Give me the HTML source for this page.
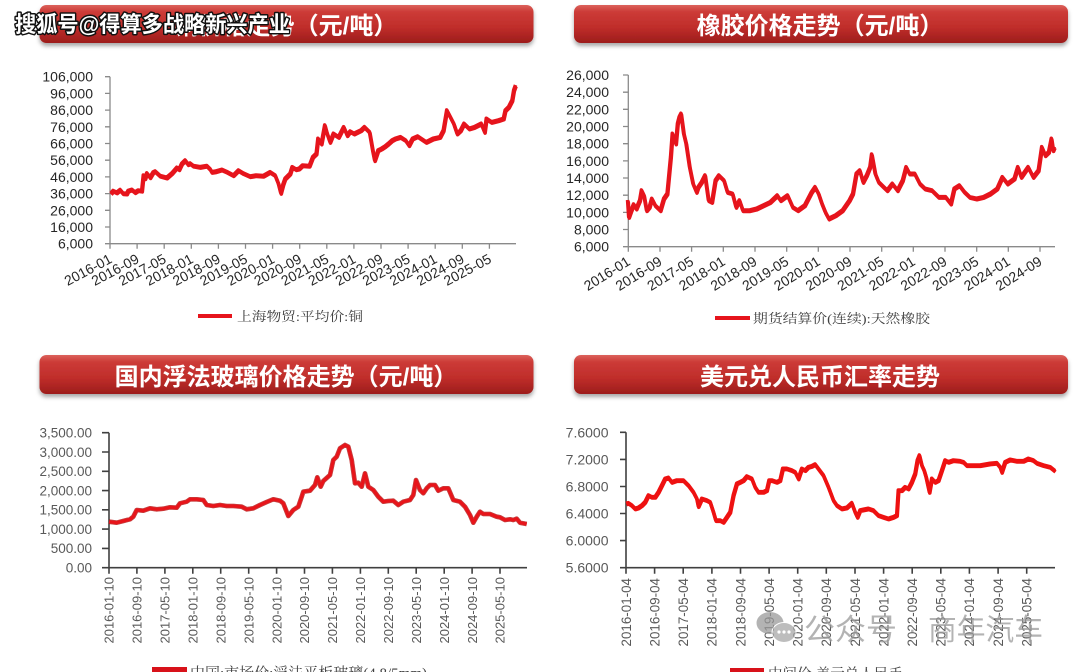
<!DOCTYPE html>
<html><head><meta charset="utf-8">
<style>
html,body{margin:0;padding:0;background:#fff;}
body{width:1080px;height:672px;overflow:hidden;}
svg{display:block;}
.tl{font-family:"Liberation Sans",Arial,sans-serif;fill:#262626;}
.tb{font-family:"Liberation Sans",Arial,sans-serif;fill:#595959;}
.ttl{font-family:"Liberation Sans","Noto Sans CJK SC",sans-serif;font-weight:bold;fill:#fff;font-size:24px;}
.lg{font-family:"Liberation Serif","Noto Serif CJK SC",serif;fill:#404040;}
</style></head>
<body>
<svg width="1080" height="672" viewBox="0 0 1080 672" xmlns="http://www.w3.org/2000/svg">
<defs>
<linearGradient id="bn" x1="0" y1="0" x2="0" y2="1">
<stop offset="0" stop-color="#dc625c"/>
<stop offset="0.18" stop-color="#cc3b37"/>
<stop offset="0.6" stop-color="#bf2d2a"/>
<stop offset="1" stop-color="#9c1d1b"/>
</linearGradient>
<filter id="sh" x="-5%" y="-30%" width="110%" height="180%">
<feDropShadow dx="0" dy="3" stdDeviation="2" flood-color="#000" flood-opacity="0.35"/>
</filter>
</defs>

<!-- Banners -->
<rect x="39.5" y="5" width="494" height="38" rx="7" fill="url(#bn)" filter="url(#sh)"/>
<rect x="574" y="5" width="494" height="38" rx="7" fill="url(#bn)" filter="url(#sh)"/>
<rect x="39.5" y="355" width="494" height="39" rx="7" fill="url(#bn)" filter="url(#sh)"/>
<rect x="574" y="355" width="494" height="39" rx="7" fill="url(#bn)" filter="url(#sh)"/>
<text class="ttl" x="286" y="34" text-anchor="middle">铜价格走势（元/吨）</text>
<text class="ttl" x="820" y="34" text-anchor="middle">橡胶价格走势（元/吨）</text>
<text class="ttl" x="286" y="385" text-anchor="middle">国内浮法玻璃价格走势（元/吨）</text>
<text class="ttl" x="820" y="385" text-anchor="middle">美元兑人民币汇率走势</text>

<!-- ================= Copper chart ================= -->
<g stroke="#8a8a8a" stroke-width="1.3" fill="none">
<line x1="110" y1="76.7" x2="110" y2="243.7"/>
<line x1="110" y1="243.7" x2="516" y2="243.7"/>
<path d="M105 76.7h5M105 93.4h5M105 110.1h5M105 126.8h5M105 143.5h5M105 160.2h5M105 176.9h5M105 193.6h5M105 210.3h5M105 227h5M105 243.7h5"/>
<path d="M110 243.7v5M137.1 243.7v5M164.2 243.7v5M191.3 243.7v5M218.4 243.7v5M245.5 243.7v5M272.6 243.7v5M299.7 243.7v5M326.8 243.7v5M353.9 243.7v5M381 243.7v5M408.1 243.7v5M435.2 243.7v5M462.3 243.7v5M489.4 243.7v5"/>
</g>
<g class="tl" font-size="14" text-anchor="end">
<text x="93" y="81.7">106,000</text>
<text x="93" y="98.4">96,000</text>
<text x="93" y="115.1">86,000</text>
<text x="93" y="131.8">76,000</text>
<text x="93" y="148.5">66,000</text>
<text x="93" y="165.2">56,000</text>
<text x="93" y="181.9">46,000</text>
<text x="93" y="198.6">36,000</text>
<text x="93" y="215.3">26,000</text>
<text x="93" y="232">16,000</text>
<text x="93" y="248.7">6,000</text>
</g>
<g class="tl" font-size="14" text-anchor="end">
<text x="113" y="262" transform="rotate(-28 113 262)">2016-01</text>
<text x="140.1" y="262" transform="rotate(-28 140.1 262)">2016-09</text>
<text x="167.2" y="262" transform="rotate(-28 167.2 262)">2017-05</text>
<text x="194.3" y="262" transform="rotate(-28 194.3 262)">2018-01</text>
<text x="221.4" y="262" transform="rotate(-28 221.4 262)">2018-09</text>
<text x="248.5" y="262" transform="rotate(-28 248.5 262)">2019-05</text>
<text x="275.6" y="262" transform="rotate(-28 275.6 262)">2020-01</text>
<text x="302.7" y="262" transform="rotate(-28 302.7 262)">2020-09</text>
<text x="329.8" y="262" transform="rotate(-28 329.8 262)">2021-05</text>
<text x="356.9" y="262" transform="rotate(-28 356.9 262)">2022-01</text>
<text x="384" y="262" transform="rotate(-28 384 262)">2022-09</text>
<text x="411.1" y="262" transform="rotate(-28 411.1 262)">2023-05</text>
<text x="438.2" y="262" transform="rotate(-28 438.2 262)">2024-01</text>
<text x="465.3" y="262" transform="rotate(-28 465.3 262)">2024-09</text>
<text x="492.4" y="262" transform="rotate(-28 492.4 262)">2025-05</text>
</g>
<polyline id="cu" fill="none" stroke="#e6141c" stroke-width="3.6" stroke-linejoin="round" points="110.7,193.3 113,190.5 116.7,192.2 120,189.5 123,193 126.7,193.3 128,190.5 131.7,189.3 135,192 138,190 141.7,190.5 143.3,175 145,178 146.7,172.8 150,177 153,172 155,171 160,175.5 166.7,177.3 171.7,173 176.7,167.3 179,169 181.7,163.3 185,160 188,164 190,163 193.3,165.5 200,166.7 206.7,165.5 210,168.8 211.7,171.7 215,171.2 221.7,169.3 226.7,171.5 233.3,175 238.3,170 243.3,173 250,176 256,175 263.3,175.5 270,171.7 275,175 278.3,183.3 280.7,192.7 283,184 285,178.3 290,173.3 292.1,166.7 296,169 299,168.3 302.4,165 309.3,165.5 312.7,156.7 316.2,153.3 317.9,138.3 321.3,143.3 324.7,125 326.5,131.7 329.9,141.7 333.3,133.3 338.5,136.7 343.6,126.7 347.1,135 350,131 354,133.3 360.8,130 364.3,126.7 369.4,131.7 372.9,151.7 374.6,160 378,150 381.4,148.3 385,146 388.3,143.3 392,140 395.2,138.3 400.3,136.7 405.5,140 408.9,145 412.4,138.3 417.5,136 422,139 426.1,141.7 433,138.3 439.9,136.7 443.3,130 446.7,110 450.2,116.7 453.6,123.3 457,133.3 460.5,130 463.9,123.3 469.1,128.3 474.2,126.7 481.1,123.3 484.5,131.7 486.3,118.3 491.4,121.7 498.3,120 503.4,118.3 505.2,110 508.6,106.7 512,100 513.7,90 515.5,85"/>
<use href="#cu" transform="translate(0.6,1.4)"/>
<line x1="198" y1="316" x2="232" y2="316" stroke="#e6141c" stroke-width="4"/>
<text class="lg" x="237" y="321" font-size="13" textLength="126" lengthAdjust="spacingAndGlyphs">上海物贸:平均价:铜</text>

<!-- ================= Rubber chart ================= -->
<g stroke="#8a8a8a" stroke-width="1.3" fill="none">
<line x1="628.3" y1="75" x2="628.3" y2="246.7"/>
<line x1="628.3" y1="246.7" x2="1055" y2="246.7"/>
<path d="M623 75h5.3M623 92.2h5.3M623 109.3h5.3M623 126.5h5.3M623 143.7h5.3M623 160.9h5.3M623 178h5.3M623 195.2h5.3M623 212.4h5.3M623 229.5h5.3M623 246.7h5.3"/>
<path d="M628.3 246.7v5M660 246.7v5M691.6 246.7v5M723.3 246.7v5M755 246.7v5M786.7 246.7v5M818.3 246.7v5M850 246.7v5M881.7 246.7v5M913.3 246.7v5M945 246.7v5M976.7 246.7v5M1008.3 246.7v5M1040 246.7v5"/>
</g>
<g class="tl" font-size="14" text-anchor="end">
<text x="609" y="80">26,000</text>
<text x="609" y="97.2">24,000</text>
<text x="609" y="114.3">22,000</text>
<text x="609" y="131.5">20,000</text>
<text x="609" y="148.7">18,000</text>
<text x="609" y="165.9">16,000</text>
<text x="609" y="183">14,000</text>
<text x="609" y="200.2">12,000</text>
<text x="609" y="217.4">10,000</text>
<text x="609" y="234.5">8,000</text>
<text x="609" y="251.7">6,000</text>
</g>
<g class="tl" font-size="14" text-anchor="end">
<text x="631.3" y="264" transform="rotate(-32 631.3 264)">2016-01</text>
<text x="663" y="264" transform="rotate(-32 663 264)">2016-09</text>
<text x="694.6" y="264" transform="rotate(-32 694.6 264)">2017-05</text>
<text x="726.3" y="264" transform="rotate(-32 726.3 264)">2018-01</text>
<text x="758" y="264" transform="rotate(-32 758 264)">2018-09</text>
<text x="789.7" y="264" transform="rotate(-32 789.7 264)">2019-05</text>
<text x="821.3" y="264" transform="rotate(-32 821.3 264)">2020-01</text>
<text x="853" y="264" transform="rotate(-32 853 264)">2020-09</text>
<text x="884.7" y="264" transform="rotate(-32 884.7 264)">2021-05</text>
<text x="916.3" y="264" transform="rotate(-32 916.3 264)">2022-01</text>
<text x="948" y="264" transform="rotate(-32 948 264)">2022-09</text>
<text x="979.7" y="264" transform="rotate(-32 979.7 264)">2023-05</text>
<text x="1011.3" y="264" transform="rotate(-32 1011.3 264)">2024-01</text>
<text x="1043" y="264" transform="rotate(-32 1043 264)">2024-09</text>
</g>
<polyline id="rb" fill="none" stroke="#e6141c" stroke-width="3.6" stroke-linejoin="round" points="627.6,200 628.7,216.7 631.1,210 633.5,204 636.2,208.3 639.7,200 641.4,190 643.8,195 646.5,210 649.3,206.7 651.7,198.3 655.1,205 660.3,210 663.7,198.3 667.1,193.3 670.6,156.7 672.3,133.3 675.7,143.3 677.5,123.3 679.2,116.7 680.9,113.3 683.6,133.3 686,143.3 689.5,166.7 692.9,183.3 696.4,191.7 698.1,186.7 701.5,181.7 704.9,175 708.4,200 711.8,201.7 715.3,180 718.7,175 723.8,180 727.3,191.7 732.4,193.3 735.9,206.7 739.3,200 742.7,210 749.6,210 756.5,208.3 763.4,205 770.2,201.7 777.1,195 780.5,200 787.4,195 792.6,206.7 797.7,210 804.6,205 811.5,191.7 814.9,186.7 818.4,193.3 821.8,203.3 825.2,211.7 828.7,218.3 835.5,215 842.4,210 849.3,200 852.7,193.3 856.2,173.3 859.6,170 863,181.7 866.5,175 869.9,166.7 871.6,154 875.1,173.3 878.5,181.7 883.6,186.7 887.1,190 892.2,183.3 897.4,190 902.5,180 906,166.7 909.4,173.3 914.6,173.3 919.7,183.3 924.9,188.3 931.8,190 938.6,196.7 945.5,196.7 950.7,203.3 954.1,188.3 959.2,185 964.4,191.7 969.6,196.7 976.4,198.3 983.3,196.7 990.2,193.3 997,188.3 1002.2,176.7 1007.4,183.3 1014.2,178.3 1017.7,166.7 1021.1,176.7 1028,166.7 1033.1,176.7 1038.3,170 1041.7,146.7 1045.1,155 1048.6,151.7 1051.3,138.3 1053,150 1054.4,146.7"/>
<use href="#rb" transform="translate(0.6,1.4)"/>
<line x1="715" y1="318" x2="750" y2="318" stroke="#e6141c" stroke-width="4"/>
<text class="lg" x="753" y="323" font-size="13" textLength="177" lengthAdjust="spacingAndGlyphs">期货结算价(连续):天然橡胶</text>

<!-- ================= Glass chart ================= -->
<g stroke="#404040" stroke-width="1.6" fill="none">
<line x1="109" y1="432.7" x2="109" y2="567.7"/>
<line x1="109" y1="567.7" x2="527" y2="567.7"/>
<path d="M102 432.7h7M102 452h7M102 471.3h7M102 490.6h7M102 509.8h7M102 529.1h7M102 548.4h7M102 567.7h7"/>
<path d="M109 567.7v6M136.9 567.7v6M164.9 567.7v6M192.8 567.7v6M220.7 567.7v6M248.7 567.7v6M276.6 567.7v6M304.5 567.7v6M332.4 567.7v6M360.4 567.7v6M388.3 567.7v6M416.2 567.7v6M444.2 567.7v6M472.1 567.7v6M500 567.7v6"/>
</g>
<g class="tb" font-size="13.5" text-anchor="end">
<text x="92" y="437.5">3,500.00</text>
<text x="92" y="456.8">3,000.00</text>
<text x="92" y="476.1">2,500.00</text>
<text x="92" y="495.4">2,000.00</text>
<text x="92" y="514.6">1,500.00</text>
<text x="92" y="533.9">1,000.00</text>
<text x="92" y="553.2">500.00</text>
<text x="92" y="572.5">0.00</text>
</g>
<g class="tb" font-size="13" text-anchor="end">
<text x="113.7" y="577" transform="rotate(-90 113.7 577)">2016-01-10</text>
<text x="141.6" y="577" transform="rotate(-90 141.6 577)">2016-09-10</text>
<text x="169.6" y="577" transform="rotate(-90 169.6 577)">2017-05-10</text>
<text x="197.5" y="577" transform="rotate(-90 197.5 577)">2018-01-10</text>
<text x="225.4" y="577" transform="rotate(-90 225.4 577)">2018-09-10</text>
<text x="253.4" y="577" transform="rotate(-90 253.4 577)">2019-05-10</text>
<text x="281.3" y="577" transform="rotate(-90 281.3 577)">2020-01-10</text>
<text x="309.2" y="577" transform="rotate(-90 309.2 577)">2020-09-10</text>
<text x="337.1" y="577" transform="rotate(-90 337.1 577)">2021-05-10</text>
<text x="365.1" y="577" transform="rotate(-90 365.1 577)">2022-01-10</text>
<text x="393" y="577" transform="rotate(-90 393 577)">2022-09-10</text>
<text x="420.9" y="577" transform="rotate(-90 420.9 577)">2023-05-10</text>
<text x="448.9" y="577" transform="rotate(-90 448.9 577)">2024-01-10</text>
<text x="476.8" y="577" transform="rotate(-90 476.8 577)">2024-09-10</text>
<text x="504.7" y="577" transform="rotate(-90 504.7 577)">2025-05-10</text>
</g>
<polyline id="gl" fill="none" stroke="#b80d0d" stroke-width="4.6" stroke-linejoin="round" stroke-opacity="0.55" points="109,521.7 116.7,522.7 123.3,521 130,519.3 133.3,516.7 136.7,510 143.3,510.7 150,508.3 156.7,509.3 163.3,508.7 170,507.3 176.7,507.7 180,503.3 186.7,501.7 190,499.3 196.7,499.3 203.3,500 206.7,505 213.3,506 220,505 226.7,506 233.3,506 241.7,506.7 246.7,509.3 253.3,508.3 260,505 266.7,502 273.3,499.3 280,500.7 283.3,503.3 288.3,516 293.3,510 298.3,506.7 301.7,496.7 303.3,491.7 310,490.7 315,485 317.3,477.3 320.7,486.7 323.3,481 330,475 333.3,460 336.7,456.7 340,448.3 345,445 348.3,446.7 351.7,460 355,483.3 358.3,482.7 361.7,486.7 365,473.3 368.3,486.7 373.3,490 378.3,496.7 383.3,501.7 388.3,501 393.3,500.7 398.3,505 403.3,501.7 410,500 413.3,495 416,480 420,490 423.3,493.3 426.7,488.3 430,485 435,485 438.3,490.7 443.3,488.3 448.3,488.3 453.3,500 460,501.7 465,506.7 470,515 473.3,522.7 476.7,516.7 480,511.7 483.3,514 490,514 496.7,516.7 500,517.3 505,520 510,519.3 513.3,520 516.7,518.7 520,522.7 526.7,524"/>
<use href="#gl" stroke="#e8141a" stroke-width="3" stroke-opacity="1" style="stroke:#e8141a;stroke-width:3;stroke-opacity:1"/>
<polyline fill="none" stroke="#e8141a" stroke-width="3" stroke-linejoin="round" points="109,521.7 116.7,522.7 123.3,521 130,519.3 133.3,516.7 136.7,510 143.3,510.7 150,508.3 156.7,509.3 163.3,508.7 170,507.3 176.7,507.7 180,503.3 186.7,501.7 190,499.3 196.7,499.3 203.3,500 206.7,505 213.3,506 220,505 226.7,506 233.3,506 241.7,506.7 246.7,509.3 253.3,508.3 260,505 266.7,502 273.3,499.3 280,500.7 283.3,503.3 288.3,516 293.3,510 298.3,506.7 301.7,496.7 303.3,491.7 310,490.7 315,485 317.3,477.3 320.7,486.7 323.3,481 330,475 333.3,460 336.7,456.7 340,448.3 345,445 348.3,446.7 351.7,460 355,483.3 358.3,482.7 361.7,486.7 365,473.3 368.3,486.7 373.3,490 378.3,496.7 383.3,501.7 388.3,501 393.3,500.7 398.3,505 403.3,501.7 410,500 413.3,495 416,480 420,490 423.3,493.3 426.7,488.3 430,485 435,485 438.3,490.7 443.3,488.3 448.3,488.3 453.3,500 460,501.7 465,506.7 470,515 473.3,522.7 476.7,516.7 480,511.7 483.3,514 490,514 496.7,516.7 500,517.3 505,520 510,519.3 513.3,520 516.7,518.7 520,522.7 526.7,524"/>
<rect x="152" y="667" width="35" height="9" fill="#d8121a"/>
<text class="lg" x="190" y="678" font-size="15" fill="#555" textLength="237" lengthAdjust="spacingAndGlyphs">中国:市场价:浮法平板玻璃(4.8/5mm)</text>

<!-- ================= USD/CNY chart ================= -->
<g stroke="#404040" stroke-width="1.6" fill="none">
<line x1="626" y1="432.3" x2="626" y2="567.7"/>
<line x1="626" y1="567.7" x2="1055" y2="567.7"/>
<path d="M620 432.3h6M620 459.4h6M620 486.5h6M620 513.5h6M620 540.6h6M620 567.7h6"/>
<path d="M626 567.7v6M654.6 567.7v6M683.2 567.7v6M711.9 567.7v6M740.5 567.7v6M769.1 567.7v6M797.7 567.7v6M826.3 567.7v6M855 567.7v6M883.6 567.7v6M912.2 567.7v6M940.8 567.7v6M969.4 567.7v6M998.1 567.7v6M1026.7 567.7v6"/>
</g>
<g class="tb" font-size="14" text-anchor="end">
<text x="608.5" y="437.3">7.6000</text>
<text x="608.5" y="464.4">7.2000</text>
<text x="608.5" y="491.5">6.8000</text>
<text x="608.5" y="518.5">6.4000</text>
<text x="608.5" y="545.6">6.0000</text>
<text x="608.5" y="572.7">5.6000</text>
</g>
<g class="tb" font-size="13.4" text-anchor="end">
<text x="630.8" y="578" transform="rotate(-90 630.8 578)">2016-01-04</text>
<text x="659.4" y="578" transform="rotate(-90 659.4 578)">2016-09-04</text>
<text x="688" y="578" transform="rotate(-90 688 578)">2017-05-04</text>
<text x="716.7" y="578" transform="rotate(-90 716.7 578)">2018-01-04</text>
<text x="745.3" y="578" transform="rotate(-90 745.3 578)">2018-09-04</text>
<text x="773.9" y="578" transform="rotate(-90 773.9 578)">2019-05-04</text>
<text x="802.5" y="578" transform="rotate(-90 802.5 578)">2020-01-04</text>
<text x="831.1" y="578" transform="rotate(-90 831.1 578)">2020-09-04</text>
<text x="859.8" y="578" transform="rotate(-90 859.8 578)">2021-05-04</text>
<text x="888.4" y="578" transform="rotate(-90 888.4 578)">2022-01-04</text>
<text x="917" y="578" transform="rotate(-90 917 578)">2022-09-04</text>
<text x="945.6" y="578" transform="rotate(-90 945.6 578)">2023-05-04</text>
<text x="974.2" y="578" transform="rotate(-90 974.2 578)">2024-01-04</text>
<text x="1002.9" y="578" transform="rotate(-90 1002.9 578)">2024-09-04</text>
<text x="1031.5" y="578" transform="rotate(-90 1031.5 578)">2025-05-04</text>
</g>
<polyline id="us" fill="none" stroke="#ee1111" stroke-width="3.6" stroke-linejoin="round" points="626,503.3 628.3,502.7 631.7,505 635,508.3 638.3,507.3 641.7,505 645,501.7 648.3,495 651.7,496.7 655,496.7 658.3,491.7 661.7,485 665,478.3 668.3,477.3 671.7,481.7 676.7,480 683.3,480 688.3,485 693.3,491.7 696.7,498.3 698.3,506 701.7,498.3 706.7,500 710,501.7 713.3,511.7 715.7,520 720,520 723.3,521.7 726.7,516.7 730,511.7 733.3,495 736.7,483.3 740,481.7 743.3,480 746.7,476 751.7,478.3 755,486.7 758.3,491.7 763.3,491.7 766.7,490 769,480 771.7,480 776.7,481.7 780,480 782.7,468.3 786.7,468.3 791.7,470 795,471.7 798.3,478.3 801.7,468.3 805,470 808.3,466.7 811.7,465.7 815,464 818.3,468.3 823.3,475 828.3,486.7 833.3,500 836.7,505 841.7,508.3 846.7,507.3 851.7,502.7 855,511.7 857.3,516.7 860,510 863.3,509.3 868.3,508.3 873.3,510 878.3,515 883.3,516.7 888.3,518.3 893.3,516.7 896.7,515 898.3,490 901.7,490 905,486.7 908.3,488.3 911.7,481.7 915,473.3 917.3,460 919.3,455 921.7,465 924,470 926,476.7 929.3,491.7 931.7,478.3 935,481.7 938.3,480 941.7,470 945,460 948.3,461.7 953.3,460 960,460.7 963.3,461.7 966.7,465 973.3,465 980,465 990,463.3 996.7,462.7 1000,466.7 1001.7,471.7 1005,461.7 1010,459.3 1016.7,460.7 1023.3,460.7 1028.3,458.3 1033.3,460 1036.7,462.7 1043.3,465 1050,466.7 1055,470.7"/>
<use href="#us" transform="translate(0.5,1.3)"/>
<rect x="730" y="668" width="34" height="9" fill="#d8121a"/>
<text class="lg" x="768" y="679" font-size="15" fill="#555" textLength="135" lengthAdjust="spacingAndGlyphs">中间价:美元兑人民币</text>

<!-- WeChat watermark -->
<g opacity="0.75">
<ellipse cx="770" cy="623" rx="13.5" ry="11" fill="#9a9a9a"/>
<ellipse cx="784" cy="632.5" rx="12" ry="10" fill="#a8a8a8" stroke="#fff" stroke-width="1"/>
<circle cx="779" cy="632" r="1.6" fill="#fff"/>
<circle cx="784" cy="632" r="1.6" fill="#fff"/>
<circle cx="789" cy="632" r="1.6" fill="#fff"/>
<text x="804" y="640" font-family="'Liberation Sans','Noto Sans CJK SC',sans-serif" font-size="30" fill="#9a9a9a" textLength="93" lengthAdjust="spacingAndGlyphs">公众号</text>
<text x="908" y="638" font-family="'Liberation Sans','Noto Sans CJK SC',sans-serif" font-size="26" fill="#9a9a9a">·</text>
<text x="928" y="640" font-family="'Liberation Sans','Noto Sans CJK SC',sans-serif" font-size="30" fill="#9a9a9a" textLength="115" lengthAdjust="spacingAndGlyphs">商年汽车</text>
</g>

<!-- Sohu watermark -->
<text x="15" y="32" font-family="'Liberation Sans','Noto Sans CJK SC',sans-serif" font-weight="bold" font-size="22" fill="#fff" stroke="#111" stroke-width="3" paint-order="stroke" stroke-linejoin="round" textLength="275" lengthAdjust="spacingAndGlyphs">搜狐号@得算多战略新兴产业</text>
</svg>
</body></html>
